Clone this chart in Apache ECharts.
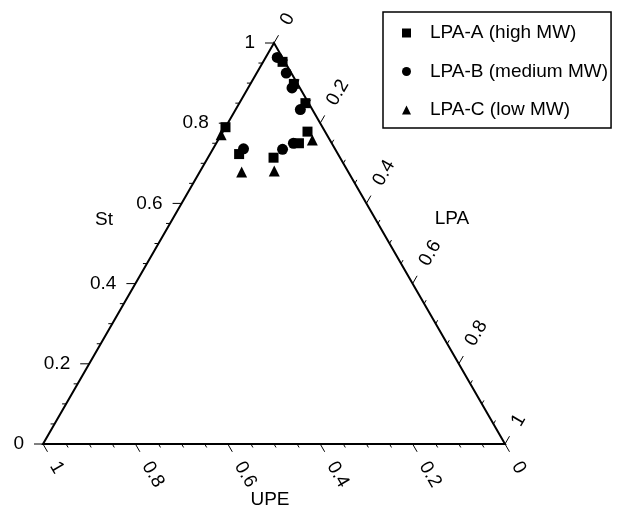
<!DOCTYPE html>
<html>
<head>
<meta charset="utf-8">
<script src="https://cdn.jsdelivr.net/npm/echarts@6/dist/echarts.min.js"></script>
<style>
  html, body { margin: 0; padding: 0; background: #fff; }
  #chart { width: 622px; height: 515px; }
</style>
</head>
<body>
<div id="chart"></div>
<script>
// each point: [UPE, St, LPA] (mass fractions)
const seriesNames = ["LPA-A (high MW)", "LPA-B (medium MW)", "LPA-C (low MW)"];
const lpaA = [
  [0.005, 0.953, 0.042],
  [0.008, 0.898, 0.094],
  [0.007, 0.850, 0.143],
  [0.210, 0.790, 0.000],
  [0.214, 0.723, 0.063],
  [0.144, 0.714, 0.142],
  [0.071, 0.750, 0.179],
  [0.038, 0.779, 0.183],
];
const lpaB = [
  [0.011, 0.964, 0.025],
  [0.011, 0.925, 0.064],
  [0.017, 0.888, 0.095],
  [0.026, 0.834, 0.140],
  [0.198, 0.736, 0.066],
  [0.114, 0.735, 0.151],
  [0.083, 0.750, 0.167],
];
const lpaC = [
  [0.229, 0.771, 0.000],
  [0.231, 0.678, 0.091],
  [0.159, 0.681, 0.160],
  [0.038, 0.758, 0.204],
];
const tickValues = [0, 0.2, 0.4, 0.6, 0.8, 1];
const tickLabels = ["0", "0.2", "0.4", "0.6", "0.8", "1"];

const H = Math.sqrt(3) / 2;
const FONT = "19px 'Liberation Sans', Arial, sans-serif";

// ternary -> plane coordinates
function toXY(p) {
  return [p[2] + p[1] / 2, p[1] * H];
}

function renderFrame(params, api) {
  const P = (u, s, l) => api.coord([l + s / 2, s * H]);
  const kids = [];
  const top = P(0, 1, 0), bl = P(1, 0, 0), br = P(0, 0, 1);
  kids.push({
    type: "polygon",
    shape: { points: [top, bl, br] },
    style: { fill: null, stroke: "#000", lineWidth: 2, lineJoin: "miter" },
  });
  const line = (a, b) => ({
    type: "line",
    shape: { x1: a[0], y1: a[1], x2: b[0], y2: b[1] },
    style: { stroke: "#000", lineWidth: 1 },
  });
  for (let i = 0; i <= 20; i++) {
    const v = i / 20;
    const len = i % 4 === 0 ? 9 : 4;
    let p = P(1 - v, v, 0); // St axis
    kids.push(line(p, [p[0] - len, p[1]]));
    p = P(v, 0, 1 - v); // UPE axis
    kids.push(line(p, [p[0] + len * 0.5, p[1] + len * H]));
    p = P(0, 1 - v, v); // LPA axis
    kids.push(line(p, [p[0] + len * 0.5, p[1] - len * H]));
  }
  const txt = (x, y, text, align, rot) => ({
    type: "text",
    x: x, y: y, rotation: rot,
    style: { text: text, font: FONT, fill: "#000", align: align, verticalAlign: "middle" },
  });
  const off = 22;
  tickValues.forEach((v, k) => {
    let p = P(1 - v, v, 0);
    kids.push(txt(p[0] - 19, p[1], tickLabels[k], "right", 0));
    p = P(v, 0, 1 - v);
    kids.push(txt(p[0] + off * 0.5, p[1] + off * H, tickLabels[k], "left", -Math.PI / 3));
    p = P(0, 1 - v, v);
    kids.push(txt(p[0] + off * 0.5, p[1] - off * H, tickLabels[k], "left", Math.PI / 3));
  });
  return { type: "group", children: kids };
}

const chart = echarts.init(document.getElementById("chart"));
const pointStyle = { color: "#000", opacity: 1 };
chart.setOption({
  animation: false,
  grid: { left: 43, right: 117, top: 43, bottom: 71 },
  xAxis: { type: "value", min: 0, max: 1, show: false },
  yAxis: { type: "value", min: 0, max: H, show: false },
  legend: {
    orient: "vertical",
    left: 383,
    top: 12,
    itemWidth: 9,
    itemHeight: 9,
    itemGap: 18.5,
    padding: [11, 3, 8, 19],
    borderColor: "#000",
    borderWidth: 1.5,
    selectedMode: false,
    textStyle: {
      fontSize: 19, color: "#000", lineHeight: 20,
      fontFamily: "'Liberation Sans', Arial, sans-serif",
      padding: [0, 0, 0, 14],
    },
    data: [
      { name: seriesNames[0], icon: "rect", itemStyle: { opacity: 1 } },
      { name: seriesNames[1], icon: "circle", itemStyle: { opacity: 1 } },
      { name: seriesNames[2], icon: "triangle", itemStyle: { opacity: 1 } },
    ],
  },
  graphic: [
    { type: "text", x: 104, y: 220, style: { text: "St", font: FONT, fill: "#000", align: "center", verticalAlign: "middle" } },
    { type: "text", x: 452, y: 219, style: { text: "LPA", font: FONT, fill: "#000", align: "center", verticalAlign: "middle" } },
    { type: "text", x: 270, y: 500, style: { text: "UPE", font: FONT, fill: "#000", align: "center", verticalAlign: "middle" } },
  ],
  series: [
    {
      type: "custom",
      silent: true,
      clip: false,
      renderItem: renderFrame,
      data: [[0, 0]],
      z: 1,
    },
    {
      name: seriesNames[0], type: "scatter", symbol: "rect", symbolSize: 10,
      itemStyle: pointStyle, data: lpaA.map(toXY), z: 3,
    },
    {
      name: seriesNames[1], type: "scatter", symbol: "circle", symbolSize: 11,
      itemStyle: pointStyle, data: lpaB.map(toXY), z: 3,
    },
    {
      name: seriesNames[2], type: "scatter", symbol: "triangle", symbolSize: 11,
      itemStyle: pointStyle, data: lpaC.map(toXY), z: 3,
    },
  ],
});
</script>
</body>
</html>
